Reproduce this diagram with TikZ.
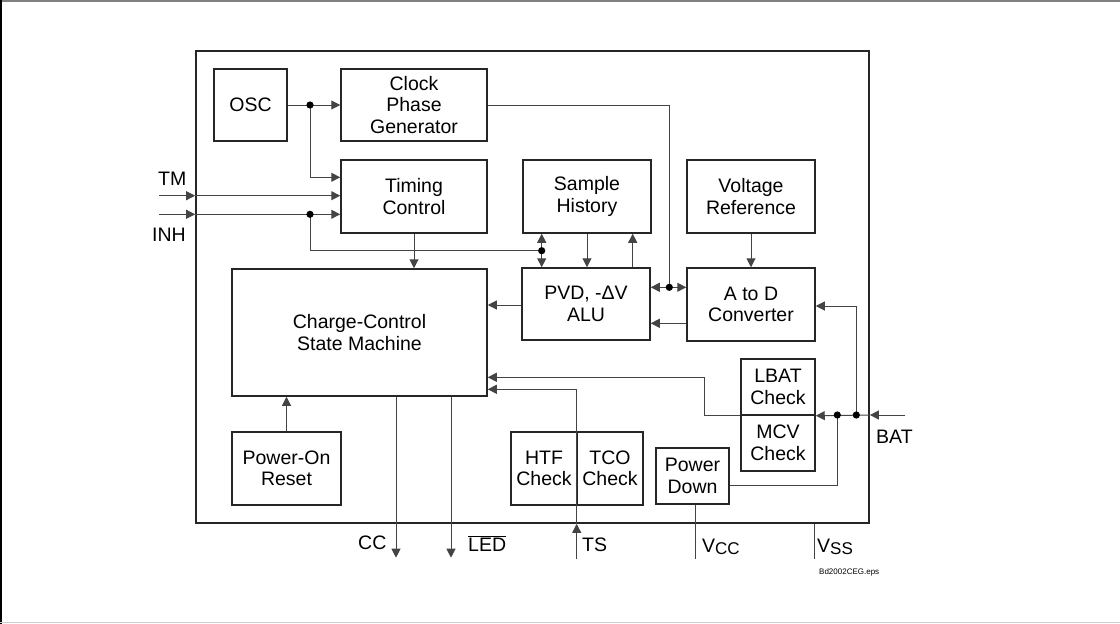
\documentclass[tikz,border=0pt]{standalone}
\usepackage{fontspec}
\setmainfont{Liberation Sans}
\usetikzlibrary{arrows.meta}
\definecolor{boxc}{HTML}{262626}
\definecolor{linec}{HTML}{444444}
\newcommand\boxfont{\fontsize{19.5}{21.5}\selectfont}
\newcommand\smallcc{\fontsize{17}{17}\selectfont}
\begin{document}
\begin{tikzpicture}[x=1pt,y=-1pt,
  blk/.style={draw=boxc,line width=1.5pt,inner sep=0pt,align=center,font=\boxfont},
  conn/.style={draw=linec,line width=1pt},
  arr/.style={-{Triangle[length=9pt,width=9pt]}},
  lbl/.style={font=\boxfont,inner sep=0pt,anchor=base west},
  dot/.style={fill=black}]
\useasboundingbox (0,0) rectangle (1120,624);
% outer frame
\draw[gray,line width=1.5pt] (0,1) -- (1120,1);
\draw[black,line width=1.5pt] (1.2,0) -- (1.2,624);
\draw[black!20,line width=1.2pt] (0,622.6) -- (1120,622.6);
% chip
\node[draw=boxc,line width=1.7pt,minimum width=673pt,minimum height=472pt,inner sep=0pt] (chip) at (532.5,287) {};
% blocks
\node[blk,minimum width=73pt,minimum height=72pt] (osc) at (250.5,105) {OSC};
\node[blk,minimum width=146pt,minimum height=72pt] (cpg) at (414,105) {Clock\\Phase\\Generator};
\node[blk,minimum width=146pt,minimum height=73pt] (tc) at (414,196.5) {Timing\\Control};
\node[blk,minimum width=128pt,minimum height=73pt] (sh) at (587,196.5) {Sample\\History};
\node[blk,minimum width=128pt,minimum height=73pt] (vr) at (751,196.5) {Voltage\\Reference};
\node[blk,minimum width=128pt,minimum height=72pt] (alu) at (586,304) {PVD, -ΔV\\ALU};
\node[blk,minimum width=128pt,minimum height=73pt] (ad) at (751,304.5) {A to D\\Converter};
\node[blk,minimum width=255pt,minimum height=127pt] (ccsm) at (359.5,332.5) {Charge-Control\\State Machine};
\node[blk,minimum width=109pt,minimum height=73pt] (por) at (286.5,468.5) {Power-On\\Reset};
\node[blk,minimum width=66pt,minimum height=73pt] (htf) at (544,468.5) {HTF\\Check};
\node[blk,minimum width=66pt,minimum height=73pt] (tco) at (610,468.5) {TCO\\Check};
\node[blk,minimum width=73pt,minimum height=56pt] (pd) at (692.5,476) {Power\\Down};
\node[blk,minimum width=74pt,minimum height=56pt] (lbat) at (778,387) {LBAT\\Check};
\node[blk,minimum width=74pt,minimum height=56pt] (mcv) at (778,443) {MCV\\Check};
% junction coordinates
\coordinate (j1) at (310,105);
\coordinate (j2) at (310,214.3);
\coordinate (j3) at (541.7,250.7);
\coordinate (j4) at (669.3,287.3);
\coordinate (j5) at (856.3,415);
\coordinate (j6) at (837.3,415);
\coordinate (tm0) at (159,195.7);
\coordinate (inh0) at (159,214.3);
\coordinate (bat0) at (905,415);
\coordinate (ts0) at (576.7,559.3);
\coordinate (cc0) at (396,557.7);
\coordinate (led0) at (451,557.7);
\coordinate (vcc0) at (695.7,559.3);
\coordinate (vss0) at (814.7,559.3);
\coordinate (lk) at (704.3,377.3);
% connectors
\draw[conn] (osc.east) -- (j1);
\draw[conn,arr] (j1) -- (cpg.west);
\draw[conn,arr] (j1) |- (tc.west |- 0,177.3);
\draw[conn,arr] (tm0) -- (chip.west |- tm0);
\draw[conn,arr] (chip.west |- tm0) -- (tc.west |- tm0);
\draw[conn,arr] (inh0) -- (chip.west |- inh0);
\draw[conn,arr] (chip.west |- inh0) -- (tc.west |- inh0);
\draw[conn] (j2) |- (j3);
\draw[conn,arr] (j3) -- (sh.south -| j3);
\draw[conn,arr] (j3) -- (alu.north -| j3);
\draw[conn,arr] (sh.south -| 587,0) -- (alu.north -| 587,0);
\draw[conn,arr] (alu.north -| 632.7,0) -- (sh.south -| 632.7,0);
\draw[conn,arr] (vr.south) -- (ad.north);
\draw[conn,arr] (tc.south) -- (ccsm.north -| tc.south);
\draw[conn] (cpg.east) -| (j4);
\draw[conn,arr] (j4) -- (alu.east |- j4);
\draw[conn,arr] (j4) -- (ad.west |- j4);
\draw[conn,arr] (ad.west |- 0,323.3) -- (alu.east |- 0,323.3);
\draw[conn,arr] (alu.west |- 0,305) -- (ccsm.east |- 0,305);
\draw[conn,arr] (bat0) -- (chip.east |- bat0);
\draw[conn,arr] (chip.east |- bat0) -- (lbat.south east);
\draw[conn,arr] (j5) |- (ad.east |- 0,306);
\draw[conn] (j6) |- (pd.east |- 0,485.3);
\draw[conn] (lbat.south west) -| (lk);
\draw[conn,arr] (lk) -- (ccsm.east |- lk);
\draw[conn,arr] (ts0) -- (chip.south -| ts0);
\draw[conn,arr] (chip.south -| ts0) |- (ccsm.east |- 0,389.3);
\draw[conn,arr] (ccsm.south -| cc0) -- (cc0);
\draw[conn,arr] (ccsm.south -| led0) -- (led0);
\draw[conn,arr] (por.north) -- (ccsm.south -| por.north);
\draw[conn] (pd.south -| vcc0) -- (vcc0);
\draw[conn] (chip.south -| vss0) -- (vss0);
% dots
\foreach \p in {j1,j2,j3,j4,j5,j6} \fill[dot] (\p) circle (3.6pt);
% labels
\node[lbl] (ltm) at (158,185) {TM};
\node[lbl] (linh) at (152,241) {INH};
\node[lbl] (lcc) at (358,549) {CC};
\node[lbl] (lled) at (468,551) {$\overline{\hbox{LED}}$};
\node[lbl] (lts) at (582,551) {TS};
\node[lbl] (lvcc) at (702,552) {V\raisebox{-2.5pt}{\smallcc CC}};
\node[lbl] (lvss) at (817,552) {V\raisebox{-2.5pt}{\smallcc SS}};
\node[lbl] (lbatl) at (876,443) {BAT};
\node[lbl,font=\fontsize{8}{9}\selectfont] (leps) at (819,574) {Bd2002CEG.eps};
\end{tikzpicture}
\end{document}
